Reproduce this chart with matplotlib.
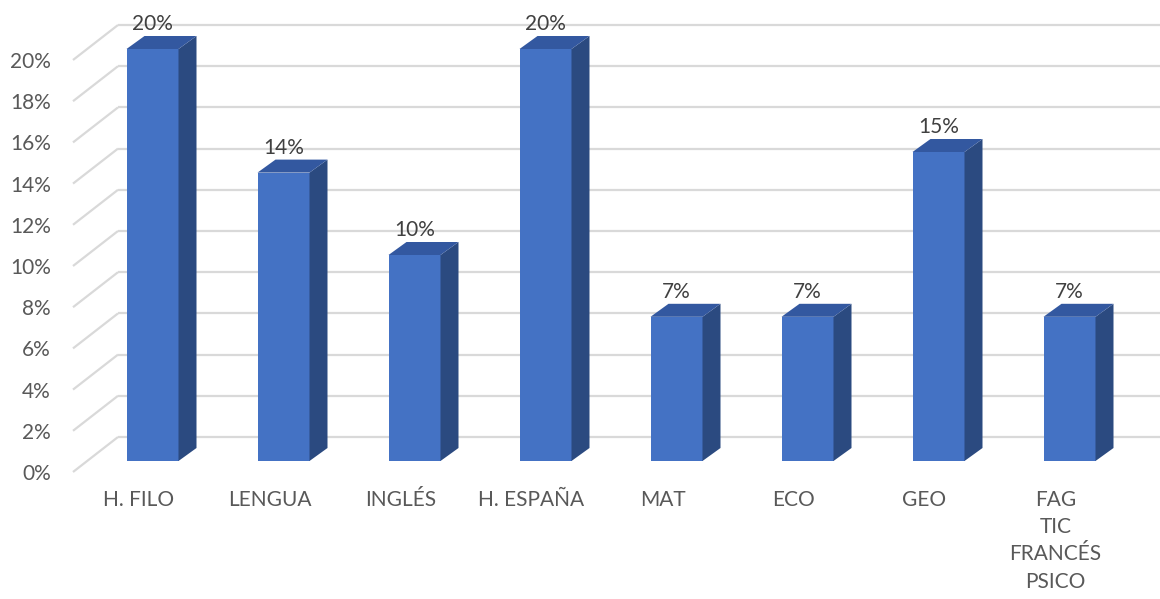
import matplotlib
matplotlib.use('Agg')
import matplotlib.pyplot as plt
from matplotlib.patches import Polygon

# data
categorias = ['H. FILO', 'LENGUA', 'INGLÉS', 'H. ESPAÑA', 'MAT', 'ECO', 'GEO',
              'FAG\nTIC\nFRANCÉS\nPSICO']
valores = [20, 14, 10, 20, 7, 7, 15, 7]
yticks = [0, 2, 4, 6, 8, 10, 12, 14, 16, 18, 20]

plt.rcParams['font.family'] = ['Lato', 'DejaVu Sans']

fig = plt.figure(figsize=(11.6, 5.99), dpi=100)
# axes covers the front plane: x from -0.5 to 7.5, y from 0 to top of image
ax = fig.add_axes([73 / 1160, 127 / 599, 1048 / 1160, 472 / 599])
ax.set_xlim(-0.5, 7.5)
ax.set_ylim(0, 472 / 20.6)

# 3d-ish offsets (data units)
wall_dx, wall_dy = 45 / 131, 35 / 20.6      # back wall
front_dx, front_dy = 14 / 131, 11 / 20.6    # bar front face
depth_dx, depth_dy = 18 / 131, 13 / 20.6    # bar depth
bw = 52 / 131

front_c = '#4472C4'
top_c = '#3358A0'
side_c = '#2B4A80'
grid_c = '#D9D9D9'
txt_c = '#595959'

# gridlines on back wall + left wall diagonals
for t in yticks:
    ax.plot([-0.5, -0.5 + wall_dx], [t, t + wall_dy], color=grid_c, lw=1.6,
            clip_on=False, zorder=1, solid_capstyle='butt')
    ax.plot([-0.5 + wall_dx, 8.0], [t + wall_dy, t + wall_dy], color=grid_c,
            lw=1.6, clip_on=False, zorder=1, solid_capstyle='butt')

xs = [i + front_dx for i in range(len(valores))]
ax.bar(xs, valores, width=bw, bottom=front_dy, color=front_c, zorder=3)

for x, v in zip(xs, valores):
    x0, x1 = x - bw / 2, x + bw / 2
    y0, y1 = front_dy, front_dy + v
    side = [(x1, y0), (x1 + depth_dx, y0 + depth_dy),
            (x1 + depth_dx, y1 + depth_dy), (x1, y1)]
    top = [(x0, y1), (x1, y1), (x1 + depth_dx, y1 + depth_dy),
           (x0 + depth_dx, y1 + depth_dy)]
    ax.add_patch(Polygon(side, closed=True, facecolor=side_c, edgecolor='none',
                         zorder=3, clip_on=False))
    ax.add_patch(Polygon(top, closed=True, facecolor=top_c, edgecolor='none',
                         zorder=3, clip_on=False))
    ax.annotate(f'{v}%', (x, y1), xytext=(0, 18), textcoords='offset points',
                ha='center', va='center', fontsize=15, color='#404040',
                annotation_clip=False)

ax.set_yticks(yticks)
ax.set_yticklabels([f'{t}%' for t in yticks])
ax.set_xticks(range(len(categorias)))
ax.set_xticklabels(categorias, linespacing=1.45)
ax.tick_params(axis='y', length=0, pad=16, labelsize=15, labelcolor=txt_c)
ax.tick_params(axis='x', length=0, pad=13, labelsize=15, labelcolor=txt_c)
for s in ax.spines.values():
    s.set_visible(False)
ax.patch.set_alpha(0)

fig.savefig('out.png', dpi=100)
